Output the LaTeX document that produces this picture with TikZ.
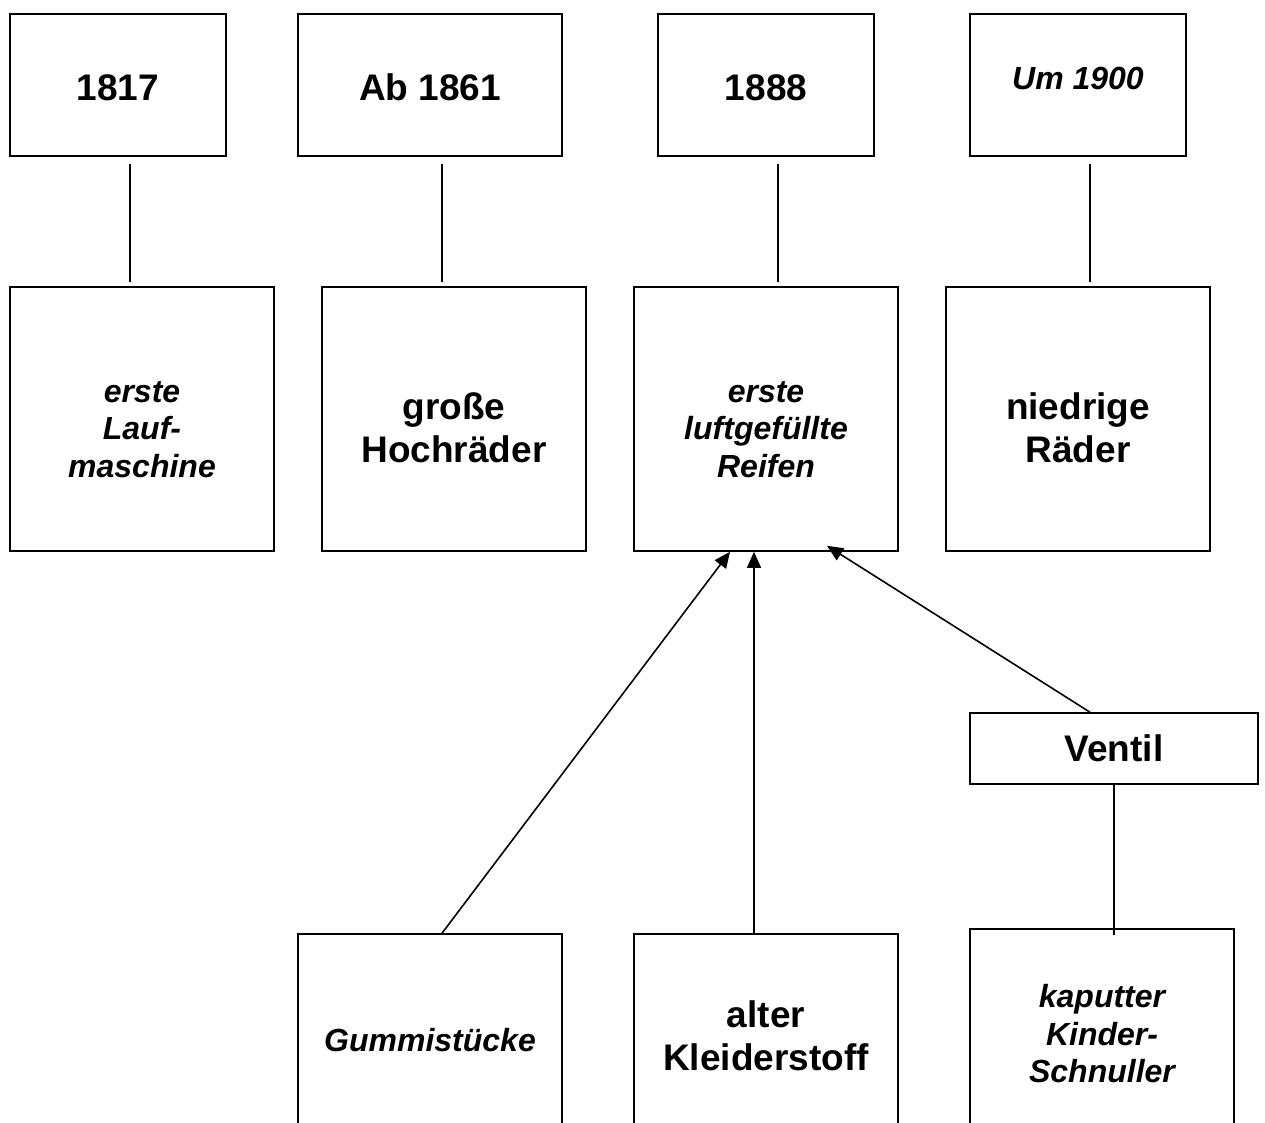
\documentclass[tikz,border=0pt]{standalone}
\usepackage{fontspec}
\setmainfont{Liberation Sans}
\usetikzlibrary{arrows.meta}
% struts that push the text of a box down or up
\newcommand{\padtop}[1]{\rule{0pt}{#1}}
\newcommand{\padbot}[1]{\rule[-#1]{0pt}{#1}}
\tikzset{
  box/.style={draw, line width=1.6pt, align=center, inner sep=2pt,
              font=\bfseries\fontsize{37}{43}\selectfont},
  boxit/.style={box, font=\bfseries\itshape\fontsize{32}{37.5}\selectfont},
  year/.style={minimum width=216pt, minimum height=142pt},
  stage/.style={minimum width=264pt, minimum height=264pt},
  part/.style={minimum width=264pt, minimum height=204pt},
  link/.style={line width=1.6pt},
  arrow/.style={link, -{Triangle[length=16pt,width=14pt]}},
}

\begin{document}
\begin{tikzpicture}[x=1pt, y=1pt]
  \useasboundingbox[fill=white] (0,0) rectangle (1265,-1122);
  % years
  \node[box, year] (y1817) at (118,-85) {\padtop{32pt}1817};
  \node[box, year, minimum width=264pt] (y1861) at (430,-85) {\padtop{32pt}Ab 1861};
  \node[box, year] (y1888) at (766,-85) {\padtop{32pt}1888};
  \node[boxit, year] (y1900) at (1078,-85) {Um 1900\padbot{13pt}};
  % bicycles
  \node[boxit, stage] (lauf) at (142,-419) {\padtop{42pt}erste\\Lauf-\\maschine};
  \node[box, stage] (hoch) at (454,-419) {\padtop{45pt}große\\Hochräder};
  \node[boxit, stage] (reifen) at (766,-419) {\padtop{42pt}erste\\luftgefüllte\\Reifen};
  \node[box, stage] (raeder) at (1078,-419) {\padtop{45pt}niedrige\\Räder};
  % parts of the tyre
  \node[box, minimum width=288pt, minimum height=71pt] (ventil) at (1114,-748.5) {Ventil};
  \node[boxit, part] (gummi) at (430,-1036) {\padtop{32pt}Gummistücke};
  \node[box, part] (kleider) at (766,-1036) {alter\\Kleiderstoff};
  \node[boxit, part] (schnuller) at (1102,-1031) {\padtop{29pt}kaputter\\Kinder-\\Schnuller};

  \foreach \a/\b/\d in {y1817/lauf/-12, y1861/hoch/-12, y1888/reifen/12, y1900/raeder/12}
    \draw[link] ([xshift=12pt,yshift=-7pt]\a.south) -- ([xshift=\d pt,yshift=4pt]\b.north);

  \draw[arrow] ([xshift=12pt]gummi.north) -- ([xshift=-36pt]reifen.south);
  \draw[arrow] ([xshift=-12pt]kleider.north) -- ([xshift=-12pt]reifen.south);
  \draw[arrow] ([xshift=-24pt]ventil.north) -- ([xshift=61pt,yshift=6pt]reifen.south);
  \draw[link] (ventil.south) -- ([yshift=-7pt]ventil.south |- schnuller.north);
\end{tikzpicture}
\end{document}
